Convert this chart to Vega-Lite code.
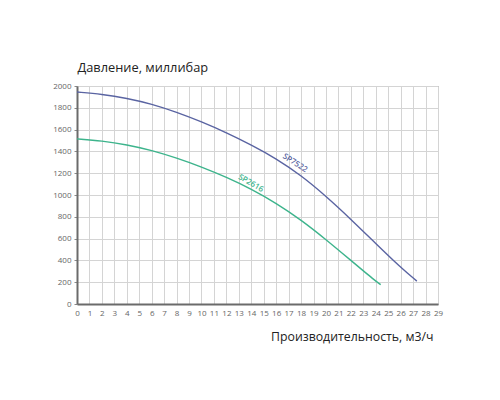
{
  "$schema": "https://vega.github.io/schema/vega-lite/v6.json",
  "width": 361,
  "height": 218,
  "autosize": "none",
  "padding": {"left": 77, "top": 86, "right": 62, "bottom": 96},
  "background": "white",
  "datasets": {
    "curves": [
      {"series": "SP7522", "q": 0, "p": 1945},
      {"series": "SP7522", "q": 2, "p": 1925},
      {"series": "SP7522", "q": 4, "p": 1888},
      {"series": "SP7522", "q": 6, "p": 1835},
      {"series": "SP7522", "q": 8, "p": 1760},
      {"series": "SP7522", "q": 10, "p": 1672},
      {"series": "SP7522", "q": 12, "p": 1572},
      {"series": "SP7522", "q": 14, "p": 1460},
      {"series": "SP7522", "q": 16, "p": 1335},
      {"series": "SP7522", "q": 18, "p": 1180},
      {"series": "SP7522", "q": 20, "p": 990},
      {"series": "SP7522", "q": 22, "p": 778},
      {"series": "SP7522", "q": 24, "p": 555},
      {"series": "SP7522", "q": 26, "p": 335},
      {"series": "SP7522", "q": 27.3, "p": 210},
      {"series": "SP2616", "q": 0, "p": 1515},
      {"series": "SP2616", "q": 2, "p": 1497},
      {"series": "SP2616", "q": 4, "p": 1462},
      {"series": "SP2616", "q": 6, "p": 1410},
      {"series": "SP2616", "q": 8, "p": 1340},
      {"series": "SP2616", "q": 10, "p": 1258},
      {"series": "SP2616", "q": 12, "p": 1163},
      {"series": "SP2616", "q": 14, "p": 1055},
      {"series": "SP2616", "q": 16, "p": 925},
      {"series": "SP2616", "q": 18, "p": 772},
      {"series": "SP2616", "q": 20, "p": 592},
      {"series": "SP2616", "q": 22, "p": 400},
      {"series": "SP2616", "q": 24, "p": 208},
      {"series": "SP2616", "q": 24.4, "p": 178}
    ],
    "labels": [
      {"series": "SP7522", "q": 17.5, "p": 1290},
      {"series": "SP2616", "q": 13.95, "p": 1105}
    ]
  },
  "encoding": {
    "x": {
      "field": "q",
      "type": "quantitative",
      "scale": {"domain": [0, 29], "nice": false},
      "axis": {
        "values": [0, 1, 2, 3, 4, 5, 6, 7, 8, 9, 10, 11, 12, 13, 14, 15, 16, 17, 18, 19, 20, 21, 22, 23, 24, 25, 26, 27, 28, 29],
        "format": "d",
        "grid": true,
        "gridColor": "#d4d4d4",
        "gridWidth": 1,
        "domainColor": "#6b6b6b",
        "domainWidth": 2,
        "ticks": false,
        "labelFontSize": 8,
        "labelColor": "#666666",
        "labelPadding": 5,
        "labelFlush": false,
        "labelOverlap": false,
        "title": "Производительность, м3/ч",
        "titleFontSize": 12.3,
        "titleFontWeight": "normal",
        "titleColor": "#222222",
        "titleAnchor": null,
        "titleAlign": "right",
        "titleBaseline": "alphabetic",
        "titleX": 356,
        "titleY": 36
      }
    },
    "y": {
      "field": "p",
      "type": "quantitative",
      "scale": {"domain": [0, 2000], "nice": false},
      "axis": {
        "values": [0, 200, 400, 600, 800, 1000, 1200, 1400, 1600, 1800, 2000],
        "format": "d",
        "grid": true,
        "gridColor": "#d4d4d4",
        "gridWidth": 1,
        "domainColor": "#6b6b6b",
        "domainWidth": 2,
        "tickSize": 3,
        "tickColor": "#8a8a8a",
        "labelFontSize": 8,
        "labelColor": "#666666",
        "labelPadding": 3,
        "labelFlush": false,
        "title": "Давление, миллибар",
        "titleFontSize": 12.8,
        "titleFontWeight": "normal",
        "titleColor": "#222222",
        "titleAngle": 0,
        "titleAnchor": null,
        "titleAlign": "left",
        "titleBaseline": "alphabetic",
        "titleX": 0,
        "titleY": -15
      }
    },
    "color": {
      "field": "series",
      "type": "nominal",
      "scale": {"domain": ["SP7522", "SP2616"], "range": ["#5a64a2", "#3db48c"]},
      "legend": null
    }
  },
  "layer": [
    {
      "data": {"name": "curves"},
      "mark": {"type": "line", "strokeWidth": 1.4, "interpolate": "basis"}
    },
    {
      "data": {"name": "labels"},
      "transform": [{"filter": "datum.series === 'SP7522'"}],
      "mark": {"type": "text", "angle": 33, "fontSize": 8, "fontWeight": 600, "font": "Open Sans"},
      "encoding": {"text": {"field": "series"}}
    },
    {
      "data": {"name": "labels"},
      "transform": [{"filter": "datum.series === 'SP2616'"}],
      "mark": {"type": "text", "angle": 30, "fontSize": 8, "fontWeight": 600, "font": "Open Sans"},
      "encoding": {"text": {"field": "series"}}
    }
  ],
  "config": {
    "font": "Open Sans",
    "view": {"stroke": "#8a8a8a", "strokeWidth": 1}
  }
}
